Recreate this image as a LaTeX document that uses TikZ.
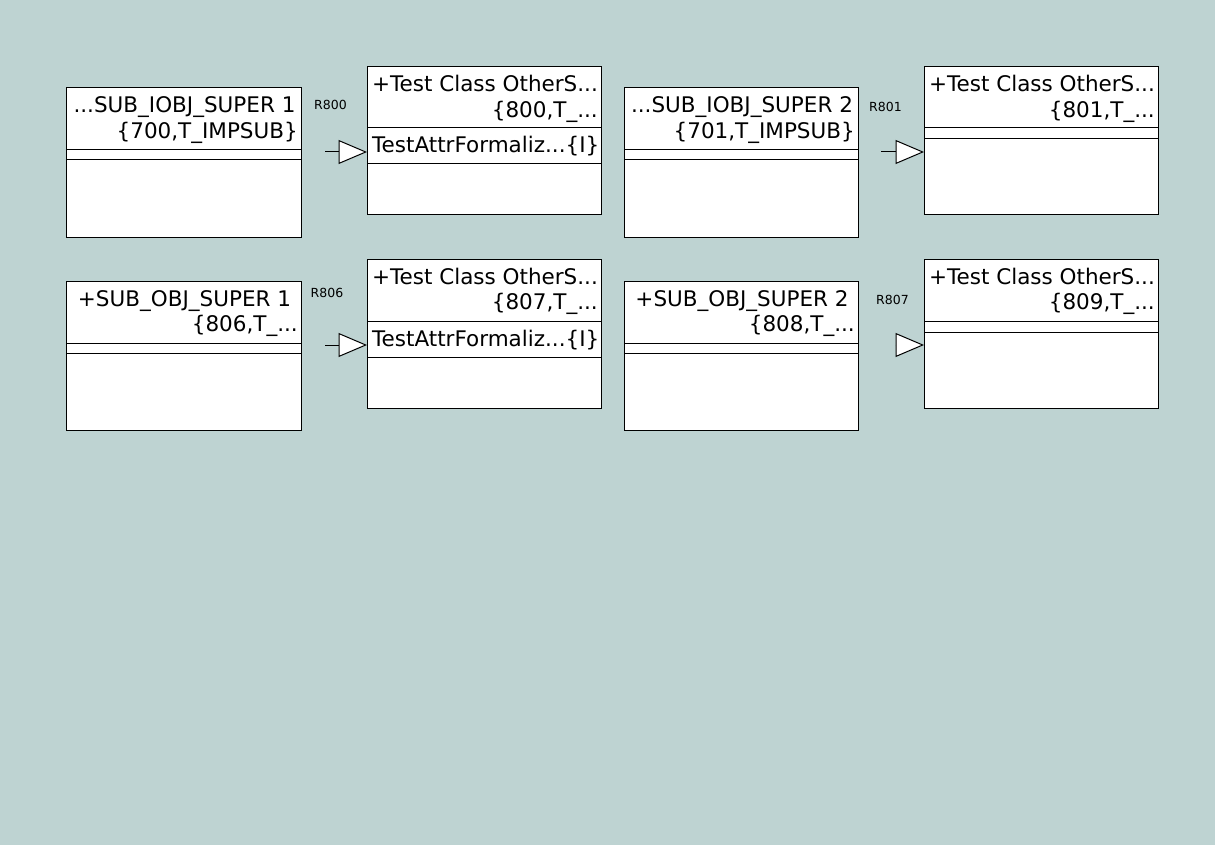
\documentclass[tikz,border=0pt]{standalone}
\usepackage{fontspec}
\setmainfont{DejaVu Sans}
\usetikzlibrary{arrows.meta}
\definecolor{bgc}{RGB}{190,211,210}
\newcommand\classbox[9]{%
  % #1 name, #2 left, #3 top, #4 right, #5 bottom, #6 sep1, #7 sep2, #8 line1, #9 line2
  \node[cls, minimum width={#4-#2}, minimum height={#5-#3}, anchor=north west] (#1) at (#2,#3) {};
  \draw[sepline] (#1.west |- 0,#6) -- (#1.east |- 0,#6);
  \draw[sepline] (#1.west |- 0,#7) -- (#1.east |- 0,#7);
  \node[big, anchor=base] (#1-t1) at ({(#2+#4)/2+1},{#3+25}) {#8};
  \node[big, anchor=base east] (#1-t2) at ({#4-3},{#3+50.5}) {#9};
}
\begin{document}
\begin{tikzpicture}[x=1pt,y=-1pt,
  cls/.style={draw=black, fill=white, line width=1pt, inner sep=0pt, outer sep=0pt},
  sepline/.style={line width=1pt},
  big/.style={font=\fontsize{21.5}{25}\selectfont, inner sep=0pt},
  small/.style={font=\fontsize{12.5}{15}\selectfont, inner sep=0pt},
  gen/.style={line width=1pt, -{Triangle[length=28.5pt,width=24pt,fill=white]}}]
\useasboundingbox (0,0) rectangle (1231,861);
\fill[white] (0,0) rectangle (1231,861);
\fill[bgc] (0,0) rectangle (1215,845);
% row 1
\classbox{A1}{66}{88}{301}{237}{150}{160}{...SUB\_IOBJ\_SUPER 1}{\{700,T\_IMPSUB\}}
\classbox{B1}{367}{67}{601}{215}{128}{164}{+Test Class OtherS...}{\{800,T\_...}
\node[big, anchor=base west] (B1-a) at (372,153) {TestAttrFormaliz...\{I\}};
\classbox{A2}{624}{88}{858}{237}{150}{160}{...SUB\_IOBJ\_SUPER 2}{\{701,T\_IMPSUB\}}
\classbox{B2}{924}{67}{1158}{215}{128}{139}{+Test Class OtherS...}{\{801,T\_...}
% row 2
\classbox{A3}{66}{281}{301}{430}{343}{353}{+SUB\_OBJ\_SUPER 1}{\{806,T\_...}
\classbox{B3}{367}{259}{601}{408}{321}{357}{+Test Class OtherS...}{\{807,T\_...}
\node[big, anchor=base west] (B3-a) at (372,346) {TestAttrFormaliz...\{I\}};
\classbox{A4}{624}{281}{858}{430}{343}{353}{+SUB\_OBJ\_SUPER 2}{\{808,T\_...}
\classbox{B4}{924}{259}{1158}{408}{321}{332}{+Test Class OtherS...}{\{809,T\_...}
% connectors
\coordinate (c800) at (325,152);
\coordinate (c801) at (881,152);
\coordinate (c806) at (325,345);
\coordinate (c807) at (895.5,345);
\draw[gen] (c800) -- (B1.west |- c800);
\draw[gen] (c801) -- (B2.west |- c801);
\draw[gen] (c806) -- (B3.west |- c806);
\draw[gen] (c807) -- (B4.west |- c807);
% labels
\node[small, anchor=base west] (l800) at (314,110) {R800};
\node[small, anchor=base west] (l801) at (869,112) {R801};
\node[small, anchor=base west] (l806) at (310.5,297) {R806};
\node[small, anchor=base west] (l807) at (876,304) {R807};
\end{tikzpicture}
\end{document}
